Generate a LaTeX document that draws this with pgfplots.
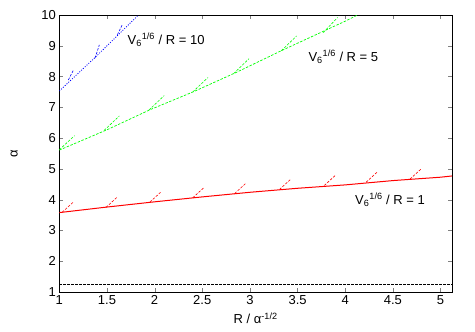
\documentclass[border=0pt]{standalone}
\usepackage{fontspec}
\setmainfont{Liberation Sans}
\usepackage{pgfplots}
\pgfplotsset{compat=1.18}
\begin{document}
\begin{tikzpicture}[font=\fontsize{13}{15}\selectfont]
\useasboundingbox (-59.3pt,-40pt) rectangle (415.7pt,292pt);
\begin{axis}[
  scale only axis, width=392.7pt, height=277pt, at={(0pt,0pt)}, anchor=south west,
  xmin=1, xmax=5.12, ymin=1, ymax=10,
  xtick={1,1.5,...,5}, ytick={1,2,...,10},
  xticklabels={1,1.5,2,2.5,3,3.5,4,4.5,5},
  tick align=inside, tick pos=both, major tick length=4pt,
  /pgf/number format/assume math mode=true,
  tick label style={font=\fontsize{13}{15}\selectfont},
  axis line style={line width=0.8pt},
  xlabel={R / α\textsuperscript{-1/2}}, ylabel={α},
  xlabel style={at={(axis description cs:0.5,-0.095)}, anchor=center},
  ylabel style={at={(axis description cs:-0.115,0.5)}, anchor=center},
  unbounded coords=jump, clip=true,
]
% black dashed reference
\addplot[black, line width=0.6pt, dash pattern=on 2.5pt off 1.5pt] coordinates {(1,1.25) (5.12,1.25)};
% R = 1
\addplot[red, line width=1pt] coordinates {(1,3.58) (1.5,3.76) (2,3.93) (2.5,4.09) (3,4.24) (3.5,4.37) (4,4.48) (4.5,4.62) (5,4.73) (5.12,4.77)};
\addplot[red, line width=0.6pt, dash pattern=on 2.5pt off 1.5pt] coordinates {
 (1.03,3.59) (1.15,3.93) (nan,nan)
 (1.49,3.75) (1.61,4.09) (nan,nan)
 (1.95,3.92) (2.07,4.26) (nan,nan)
 (2.40,4.06) (2.52,4.40) (nan,nan)
 (2.84,4.20) (2.96,4.54) (nan,nan)
 (3.31,4.33) (3.43,4.67) (nan,nan)
 (3.78,4.46) (3.90,4.80) (nan,nan)
 (4.22,4.57) (4.34,4.91) (nan,nan)
 (4.68,4.67) (4.80,5.01)};
% R = 5
\addplot[green, line width=0.7pt, dash pattern=on 2.5pt off 1.5pt] coordinates {(1,5.61) (1.5,6.27) (1.95,6.92) (2.41,7.51) (2.86,8.14) (3.35,8.87) (4,9.80) (4.13,10)};
\addplot[green, line width=0.6pt, dash pattern=on 2.5pt off 1.5pt] coordinates {
 (1.00,5.62) (1.16,6.08) (nan,nan)
 (1.47,6.25) (1.63,6.72) (nan,nan)
 (1.94,6.91) (2.10,7.38) (nan,nan)
 (2.40,7.50) (2.56,7.97) (nan,nan)
 (2.83,8.10) (2.99,8.58) (nan,nan)
 (3.33,8.84) (3.49,9.32) (nan,nan)
 (3.77,9.43) (3.92,9.92)};
% R = 10
\addplot[blue, line width=0.8pt, dash pattern=on 1pt off 1.5pt] coordinates {(1,7.53) (1.375,8.62) (1.6,9.30) (1.83,10)};
\addplot[blue, line width=0.6pt, dash pattern=on 2.5pt off 1.5pt] coordinates {
 (1.095,7.89) (1.15,8.22) (nan,nan)
 (1.375,8.60) (1.42,9.03) (nan,nan)
 (1.61,9.36) (1.66,9.68)};
\node at (axis cs:2.12,9.19) {V\textsubscript{6}\textsuperscript{1/6} / R = 10};
\node at (axis cs:3.98,8.64) {V\textsubscript{6}\textsuperscript{1/6} / R = 5};
\node at (axis cs:4.47,3.99) {V\textsubscript{6}\textsuperscript{1/6} / R = 1};
\end{axis}
\end{tikzpicture}
\end{document}
